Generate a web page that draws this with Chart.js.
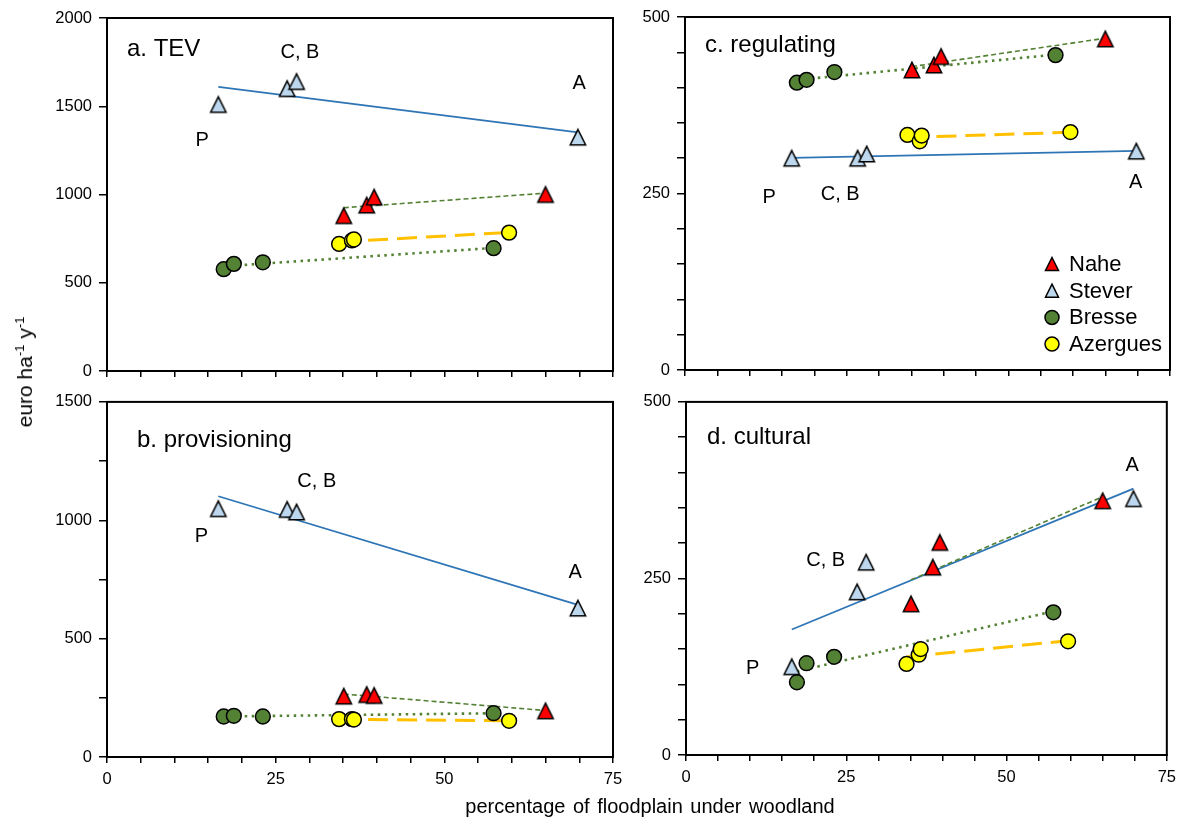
<!DOCTYPE html>
<html>
<head>
<meta charset="utf-8">
<title>Ecosystem service values vs floodplain woodland</title>
<script src="https://cdn.jsdelivr.net/npm/chart.js@4.4.1/dist/chart.umd.min.js"></script>
<style>
  body { margin: 0; background: #fff; }
  #wrap { position: relative; width: 1183px; height: 820px; font-family: "Liberation Sans", Arial, sans-serif; color: #000; }
  #wrap canvas { position: absolute; }
  #ytitle { position: absolute; left: 25px; top: 372px; transform: translate(-50%, -50%) rotate(-90deg); font-size: 21px; white-space: nowrap; }
  #xtitle { position: absolute; left: 650px; top: 806px; transform: translate(-50%, -50%); font-size: 20px; white-space: nowrap; word-spacing: 2px; }
  sup { font-size: 13px; vertical-align: 0; position: relative; top: -8px; }
</style>
</head>
<body>
<div id="wrap">
  <canvas id="tev" width="640" height="390" style="left:0;top:0"></canvas>
  <canvas id="prov" width="640" height="420" style="left:0;top:385px"></canvas>
  <canvas id="reg" width="563" height="390" style="left:620px;top:0"></canvas>
  <canvas id="cult" width="563" height="420" style="left:620px;top:385px"></canvas>
  <div id="ytitle">euro ha<sup>-1</sup> y<sup>-1</sup></div>
  <div id="xtitle">percentage of floodplain under woodland</div>
</div>
<script>
const rivers = ["Nahe", "Stever", "Bresse", "Azergues"];

// % of floodplain under woodland, one value per site
const naheX = [35.1, 38.5, 39.6, 65.0];
const steverX = [16.5, 26.7, 28.1, 69.8]; // P, C, B, A
const bresseX = [17.3, 18.8, 23.1, 57.3];
const azerguesX = [34.4, 36.3, 36.6, 59.6];

// a. TEV
const tevNahe = [880, 940, 985, 1000];
const tevStever = [1510, 1600, 1640, 1325];
const tevBresse = [577, 607, 616, 696];
const tevAzergues = [720, 740, 745, 784];
// b. provisioning
const provNahe = [257, 264, 260, 195];
const provStever = [1049, 1046, 1035, 629];
const provBresse = [171, 174, 171, 185];
const provAzergues = [160, 160, 158, 153];
// c. regulating
const regNahe = [425, 432, 444, 469];
const regStever = [300, 300, 306, 310];
const regBresse = [407, 411, 422, 446];
const regAzergues = [333, 324, 332, 337];
// d. cultural
const cultNahe = [214, 266, 301, 360];
const cultStever = [125, 231, 273, 363];
const cultBresse = [103, 130, 139, 202];
const cultAzergues = [129, 142, 150, 161];

const xLabelEvery = 25;

const FONT = '"Liberation Sans", Arial, sans-serif';

const look = {
  Nahe:     { shape: "triangle", fill: "#FF0000", line: "#548235", width: 1.6, dash: [5, 3] },
  Stever:   { shape: "triangle", fill: "#BDD7EE", line: "#2E75B6", width: 1.8, dash: [] },
  Bresse:   { shape: "circle",   fill: "#548235", line: "#548235", width: 2.6, dash: [2.5, 4.5] },
  Azergues: { shape: "circle",   fill: "#FFFF00", line: "#FFC000", width: 3, dash: [20, 9] }
};

// least-squares trend line between the smallest and largest x
function fit(xs, ys) {
  const n = xs.length;
  const mx = xs.reduce((a, b) => a + b, 0) / n;
  const my = ys.reduce((a, b) => a + b, 0) / n;
  let sxy = 0, sxx = 0;
  for (let i = 0; i < n; i++) {
    sxy += (xs[i] - mx) * (ys[i] - my);
    sxx += (xs[i] - mx) * (xs[i] - mx);
  }
  const b = sxy / sxx;
  const x0 = Math.min(...xs), x1 = Math.max(...xs);
  return [{ x: x0, y: my + b * (x0 - mx) }, { x: x1, y: my + b * (x1 - mx) }];
}

function pathTriangle(ctx, x, y, h) {
  ctx.moveTo(x, y - h);
  ctx.lineTo(x + h, y + h);
  ctx.lineTo(x - h, y + h);
  ctx.closePath();
}

// triangle marker as a small canvas, centred on its bounding box
function triangleImage(fill, h) {
  const c = document.createElement("canvas");
  const size = Math.ceil(2 * h + 4);
  c.width = size;
  c.height = size;
  const g = c.getContext("2d");
  g.beginPath();
  pathTriangle(g, size / 2, size / 2, h);
  g.fillStyle = fill;
  g.fill();
  g.lineWidth = 1.5;
  g.lineJoin = "miter";
  g.strokeStyle = "#000";
  g.stroke();
  return c;
}

function marker(ctx, shape, x, y, r, fill) {
  ctx.beginPath();
  if (shape === "triangle") pathTriangle(ctx, x, y, r);
  else ctx.arc(x, y, r, 0, Math.PI * 2);
  ctx.fillStyle = fill;
  ctx.fill();
  ctx.lineWidth = 1.5;
  ctx.strokeStyle = "#000";
  ctx.stroke();
}

function makePanel(id, series, cfg) {
  const xs = { Nahe: naheX, Stever: steverX, Bresse: bresseX, Azergues: azerguesX };
  const datasets = [];
  rivers.forEach(name => {
    const s = look[name];
    const tri = s.shape === "triangle";
    datasets.push({
      label: name,
      data: xs[name].map((x, i) => ({ x: x, y: series[name][i] })),
      pointStyle: tri ? triangleImage(s.fill, 7.7) : "circle",
      pointRadius: tri ? 9 : 7.4,
      pointHoverRadius: tri ? 9 : 7.4,
      backgroundColor: s.fill,
      borderColor: "#000",
      borderWidth: 1.5,
      order: 1
    });
  });
  rivers.forEach(name => {
    const s = look[name];
    datasets.push({
      label: name + " trend",
      data: fit(xs[name], series[name]),
      showLine: true,
      pointRadius: 0,
      borderColor: s.line,
      borderWidth: s.width,
      borderDash: s.dash,
      fill: false,
      order: 2
    });
  });

  const textPlugin = {
    id: "panelText",
    afterDraw(chart) {
      const ctx = chart.ctx, a = chart.chartArea;
      const sx = chart.scales.x, sy = chart.scales.y;
      ctx.save();
      // frame round the plot area
      ctx.strokeStyle = "#000";
      ctx.lineWidth = 2;
      ctx.strokeRect(a.left, a.top, a.right - a.left, a.bottom - a.top);
      ctx.fillStyle = "#000";
      ctx.textBaseline = "alphabetic";
      ctx.textAlign = "left";
      ctx.font = "24px " + FONT;
      ctx.fillText(cfg.title, a.left + cfg.titleAt[0], a.top + cfg.titleAt[1]);
      ctx.font = "20px " + FONT;
      ctx.textAlign = "center";
      ctx.textBaseline = "middle";
      cfg.sites.forEach(t => {
        ctx.fillText(t.text, sx.getPixelForValue(t.x), sy.getPixelForValue(t.y));
      });
      if (cfg.legend) {
        ctx.font = "22px " + FONT;
        ctx.textAlign = "left";
        rivers.forEach((name, i) => {
          const y = a.top + 247 + i * 26.7;
          const s = look[name];
          marker(ctx, s.shape, a.left + 367, y, s.shape === "triangle" ? 6.5 : 7, s.fill);
          ctx.fillStyle = "#000";
          ctx.fillText(name, a.left + 384, y + 1);
        });
      }
      ctx.restore();
    }
  };

  const canvas = document.getElementById(id);
  return new Chart(canvas.getContext("2d"), {
    type: "scatter",
    data: { datasets: datasets },
    options: {
      responsive: false,
      animation: false,
      layout: { padding: { top: cfg.area.top, right: canvas.width - cfg.area.right, left: 0, bottom: 0 } },
      plugins: { legend: { display: false }, tooltip: { enabled: false } },
      scales: {
        x: {
          type: "linear",
          min: 0,
          max: 75,
          ticks: {
            stepSize: 5,
            autoSkip: false,
            maxRotation: 0,
            padding: 7,
            color: "#000",
            font: { family: FONT, size: 16.5 },
            callback: v => (cfg.xLabels && v % xLabelEvery === 0 ? v : "")
          },
          grid: { display: true, drawOnChartArea: false, drawTicks: true, tickLength: 6, color: "#000", tickColor: "#000", lineWidth: 1.5 },
          border: { display: true, color: "#000", width: 2 },
          afterFit: s => { s.height = canvas.height - cfg.area.bottom; }
        },
        y: {
          type: "linear",
          min: 0,
          max: cfg.yMax,
          ticks: {
            stepSize: cfg.yStep,
            autoSkip: false,
            padding: 7,
            color: "#000",
            font: { family: FONT, size: 16.5 },
            callback: v => (v % cfg.yLabelEvery === 0 ? v : "")
          },
          grid: { display: true, drawOnChartArea: false, drawTicks: true, tickLength: 8, color: "#000", tickColor: "#000", lineWidth: 1.5 },
          border: { display: true, color: "#000", width: 2 },
          afterFit: s => { s.width = cfg.area.left; }
        }
      }
    },
    plugins: [textPlugin]
  });
}

makePanel("tev",
  { Nahe: tevNahe, Stever: tevStever, Bresse: tevBresse, Azergues: tevAzergues },
  {
    title: "a. TEV", titleAt: [20, 38],
    area: { left: 107, top: 18, right: 613, bottom: 371 },
    yMax: 2000, yStep: 500, yLabelEvery: 500, xLabels: false,
    sites: [{ text: "P", x: 14.1, y: 1304 }, { text: "C, B", x: 28.6, y: 1803 }, { text: "A", x: 70.0, y: 1627 }]
  });

makePanel("prov",
  { Nahe: provNahe, Stever: provStever, Bresse: provBresse, Azergues: provAzergues },
  {
    title: "b. provisioning", titleAt: [30, 45],
    area: { left: 107, top: 12, right: 613, bottom: 372 },
    yMax: 1500, yStep: 250, yLabelEvery: 500, xLabels: true,
    sites: [{ text: "P", x: 14.0, y: 931 }, { text: "C, B", x: 31.1, y: 1163 }, { text: "A", x: 69.4, y: 778 }]
  });

makePanel("reg",
  { Nahe: regNahe, Stever: regStever, Bresse: regBresse, Azergues: regAzergues },
  {
    title: "c. regulating", titleAt: [20, 35],
    area: { left: 65, top: 17, right: 550, bottom: 370 },
    yMax: 500, yStep: 50, yLabelEvery: 250, xLabels: false, legend: true,
    sites: [{ text: "P", x: 13.0, y: 244 }, { text: "C, B", x: 24.0, y: 249 }, { text: "A", x: 69.7, y: 265 }]
  });

makePanel("cult",
  { Nahe: cultNahe, Stever: cultStever, Bresse: cultBresse, Azergues: cultAzergues },
  {
    title: "d. cultural", titleAt: [21, 42],
    area: { left: 66, top: 13, right: 549, bottom: 370 },
    yMax: 500, yStep: 50, yLabelEvery: 250, xLabels: true,
    sites: [{ text: "P", x: 10.4, y: 122 }, { text: "C, B", x: 21.8, y: 276 }, { text: "A", x: 69.6, y: 410 }]
  });
</script>
</body>
</html>
